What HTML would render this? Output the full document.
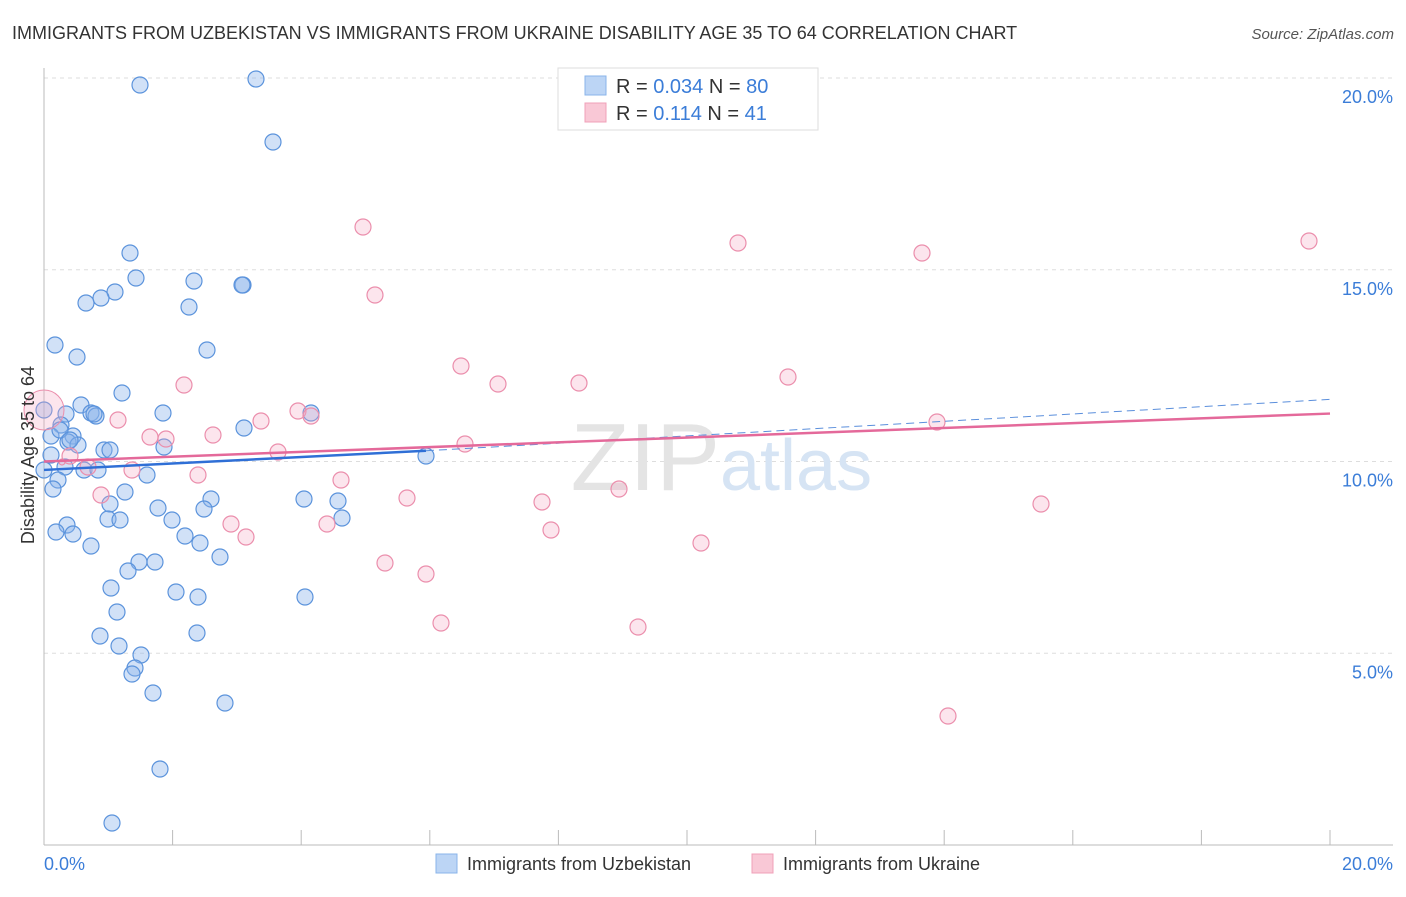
<!DOCTYPE html>
<html><head><meta charset="utf-8"><style>
body{margin:0;background:#fff;font-family:"Liberation Sans",sans-serif}
svg text{font-family:"Liberation Sans",sans-serif}
</style></head><body>
<svg width="1406" height="892" xmlns="http://www.w3.org/2000/svg">
<text x="12" y="39" font-size="18" fill="#333">IMMIGRANTS FROM UZBEKISTAN VS IMMIGRANTS FROM UKRAINE DISABILITY AGE 35 TO 64 CORRELATION CHART</text>
<text x="1394" y="39" font-size="15" fill="#555" font-style="italic" text-anchor="end">Source: ZipAtlas.com</text>
<g id="grid"></g>
<text x="720" y="490" font-size="96" fill="#e4e4e4" text-anchor="end" font-family="Liberation Serif">ZIP</text>
<text x="720" y="490" font-size="72" fill="#d6e4f4">atlas</text>
<line x1="44" y1="68" x2="44" y2="845" stroke="#bbb"/>
<line x1="44" y1="845" x2="1393" y2="845" stroke="#bbb"/>
<g id="xticks"></g>
<g id="pts"></g>
<g id="lines"></g>
<text transform="translate(34,455) rotate(-90)" font-size="18" fill="#333" text-anchor="middle">Disability Age 35 to 64</text>
<text x="44" y="870" font-size="18" fill="#3b7dd8">0.0%</text>
<text x="1393" y="870" font-size="18" fill="#3b7dd8" text-anchor="end">20.0%</text>
<g>
<rect x="558" y="68" width="260" height="62" fill="#fff" stroke="#ddd"/>
<rect x="585" y="76" width="21" height="19" fill="#bcd5f5" stroke="#8ab4ea"/>
<rect x="585" y="103" width="21" height="19" fill="#f9c8d6" stroke="#f0a0b8"/>
<text x="616" y="93" font-size="20" fill="#333">R = <tspan fill="#3b7dd8">0.034</tspan>   N = <tspan fill="#3b7dd8">80</tspan></text>
<text x="616" y="120" font-size="20" fill="#333">R =   <tspan fill="#3b7dd8">0.114</tspan>   N =  <tspan fill="#3b7dd8">41</tspan></text>
</g>
<g>
<rect x="436" y="854" width="21" height="19" fill="#bcd5f5" stroke="#8ab4ea"/>
<text x="467" y="870" font-size="18" fill="#333">Immigrants from Uzbekistan</text>
<rect x="752" y="854" width="21" height="19" fill="#f9c8d6" stroke="#f0a0b8"/>
<text x="783" y="870" font-size="18" fill="#333">Immigrants from Ukraine</text>
</g>
</svg>
<script>
const yTicks=[5,10,15,20];
const blueXY=[[140,85],[256,79],[273,142],[130,253],[136,278],[194,281],[243,285],[242,285],[115,292],[101,298],[86,303],[189,307],[55,345],[77,357],[207,350],[122,393],[81,405],[163,413],[91,413],[96,416],[66,414],[311,413],[61,425],[73,436],[244,428],[51,436],[68,442],[78,445],[104,450],[164,447],[426,456],[65,467],[84,470],[98,470],[147,475],[58,480],[53,489],[125,492],[211,499],[304,499],[338,501],[110,504],[158,508],[204,509],[172,520],[108,519],[120,520],[342,518],[67,525],[56,532],[73,534],[185,536],[200,543],[91,546],[220,557],[139,562],[155,562],[128,571],[111,588],[176,592],[198,597],[305,597],[117,612],[100,636],[197,633],[119,646],[141,655],[135,668],[132,674],[153,693],[225,703],[160,769],[112,823],[44,410],[44,470],[51,455],[94,414],[60,430],[110,450],[70,440]];
const pinkXY=[[363,227],[738,243],[922,253],[1309,241],[375,295],[461,366],[184,385],[498,384],[579,383],[788,377],[298,411],[311,416],[118,420],[261,421],[937,422],[150,437],[166,439],[213,435],[465,444],[278,452],[70,456],[132,470],[88,467],[198,475],[341,480],[101,495],[407,498],[619,489],[542,502],[1041,504],[231,524],[327,524],[551,530],[246,537],[701,543],[385,563],[426,574],[441,623],[638,627],[948,716],[62,462]];
// convert reference pixel reads to data values (%)
const blueX=blueXY.map(p=>(p[0]-44)/64.3), blueY=blueXY.map(p=>(845-p[1])/38.35);
const pinkX=pinkXY.map(p=>(p[0]-44)/64.3), pinkY=pinkXY.map(p=>(845-p[1])/38.35);
const blueTrend=[[0,9.78],[5.94,10.28],[20,11.62]];
const pinkTrend=[[0,10.0],[20,11.25]];
const X=v=>44+v*64.3, Y=v=>845-v*38.35;
const NS='http://www.w3.org/2000/svg';
function mk(t,a,parent){const e=document.createElementNS(NS,t);for(const k in a)e.setAttribute(k,a[k]);document.getElementById(parent).appendChild(e);return e;}
yTicks.forEach(t=>{
 const l=mk('line',{x1:44,x2:1393,y1:Y(t),y2:Y(t),stroke:'#ddd','stroke-dasharray':'4,4'},'grid');
 
 
 const tx=mk('text',{x:1393,y:Y(t)+25,'font-size':18,fill:'#3b7dd8','text-anchor':'end'},'grid');
 tx.textContent=t.toFixed(1)+'%';
 
 
});
for(let i=1;i<=10;i++){
 const l=mk('line',{x1:X(i*2),x2:X(i*2),y1:830,y2:845,stroke:'#bbb'},'xticks');
 
 
}
blueX.forEach((x,i)=>{
 const c=mk('circle',{cx:X(x),cy:Y(blueY[i]),r:8,fill:'rgba(140,180,235,0.4)',stroke:'#5b93dc','stroke-width':1.2},'pts');
 
 
});
pinkX.forEach((x,i)=>{
 const c=mk('circle',{cx:X(x),cy:Y(pinkY[i]),r:i==pinkX.length-1?3:8,fill:'rgba(245,170,195,0.3)',stroke:'#eb8eac','stroke-width':1.2},'pts');
 
 
});
const big=mk('circle',{cx:44,cy:410,r:20,fill:'rgba(245,170,195,0.3)',stroke:'#eb8eac'},'pts');


const b1=mk('line',{x1:X(blueTrend[0][0]),y1:Y(blueTrend[0][1]),x2:X(blueTrend[1][0]),y2:Y(blueTrend[1][1]),stroke:'#2f6fd6','stroke-width':2.5},'lines');


const b2=mk('line',{x1:X(blueTrend[1][0]),y1:Y(blueTrend[1][1]),x2:X(blueTrend[2][0]),y2:Y(blueTrend[2][1]),stroke:'#5b8fdc','stroke-width':1,'stroke-dasharray':'8,5'},'lines');


const p1=mk('line',{x1:X(pinkTrend[0][0]),y1:Y(pinkTrend[0][1]),x2:X(pinkTrend[1][0]),y2:Y(pinkTrend[1][1]),stroke:'#e4699a','stroke-width':2.5},'lines');


</script>
</body></html>
